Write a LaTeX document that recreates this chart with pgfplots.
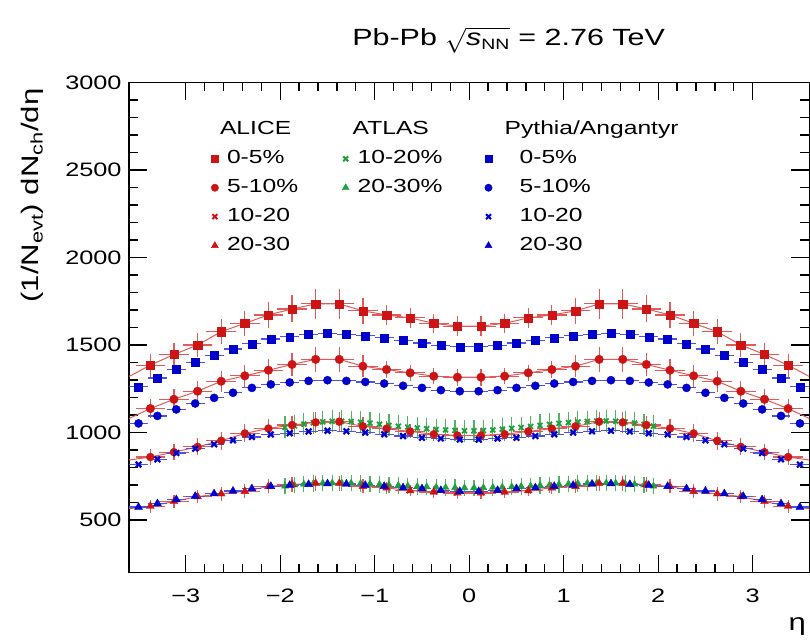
\documentclass[border=0pt]{standalone}
\usepackage{fontspec}
\setmainfont{Liberation Sans}[FakeStretch=1.3]
\usepackage{pgfplots}
\pgfplotsset{compat=1.18}
\usepackage{pgfplotstable}
\definecolor{ared}{RGB}{205,20,20}
\definecolor{aredl}{RGB}{225,90,90}
\definecolor{pblue}{RGB}{0,0,205}
\definecolor{pbluel}{RGB}{80,80,225}
\definecolor{tgreen}{RGB}{30,160,60}
\definecolor{tgreenl}{RGB}{80,180,100}

% ALICE (x y ey)
\pgfplotstableread{
x y ey
-3.375 1385 48
-3.125 1446 50
-2.875 1500 52
-2.625 1576 55
-2.375 1624 56
-2.125 1672 58
-1.875 1706 60
-1.625 1735 68
-1.375 1735 68
-1.125 1695 58
-0.875 1672 40
-0.625 1655 38
-0.375 1624 38
-0.125 1608 40
0.125 1608 40
0.375 1624 38
0.625 1655 38
0.875 1672 40
1.125 1695 58
1.375 1735 68
1.625 1735 68
1.875 1706 60
2.125 1672 58
2.375 1624 56
2.625 1576 55
2.875 1500 52
3.125 1446 50
3.375 1385 48
}\aliceA
\pgfplotstableread{
x y ey
-3.375 1137 38
-3.125 1190 40
-2.875 1236 42
-2.625 1293 44
-2.375 1324 45
-2.125 1356 46
-1.875 1389 48
-1.625 1418 54
-1.375 1418 54
-1.125 1379 46
-0.875 1360 32
-0.625 1341 30
-0.375 1322 30
-0.125 1316 32
0.125 1316 32
0.375 1322 30
0.625 1341 30
0.875 1360 32
1.125 1379 46
1.375 1418 54
1.625 1418 54
1.875 1389 48
2.125 1356 46
2.375 1324 45
2.625 1293 44
2.875 1236 42
3.125 1190 40
3.375 1137 38
}\aliceB
\pgfplotstableread{
x y ey
-3.375 860 29
-3.125 888 30
-2.875 918 31
-2.625 953 33
-2.375 995 34
-2.125 1023 35
-1.875 1043 36
-1.625 1058 41
-1.375 1062 41
-1.125 1035 35
-0.875 1022 24
-0.625 1006 23
-0.375 990 23
-0.125 983 24
0.125 983 24
0.375 990 23
0.625 1006 23
0.875 1022 24
1.125 1035 35
1.375 1062 41
1.625 1058 41
1.875 1043 36
2.125 1023 35
2.375 995 34
2.625 953 33
2.875 918 31
3.125 888 30
3.375 860 29
}\aliceC
\pgfplotstableread{
x y ey
-3.375 579 19
-3.125 606 20
-2.875 634 21
-2.625 650 22
-2.375 664 22
-2.125 692 23
-1.875 703 24
-1.625 710 27
-1.375 710 27
-1.125 692 23
-0.875 684 16
-0.625 668 15
-0.375 660 15
-0.125 655 16
0.125 655 16
0.375 660 15
0.625 668 15
0.875 684 16
1.125 692 23
1.375 710 27
1.625 710 27
1.875 703 24
2.125 692 23
2.375 664 22
2.625 650 22
2.875 634 21
3.125 606 20
3.375 579 19
}\aliceD
% thin ALICE lines (edge values read at the frame)
\pgfplotstableread{
x a b c d
-3.6 1320 1080 843 565
-3.375 1385 1137 860 579
-3.125 1446 1190 888 606
-2.875 1500 1236 918 634
-2.625 1576 1293 953 650
-2.375 1624 1324 995 664
-2.125 1672 1356 1023 692
-1.875 1706 1389 1043 703
-1.625 1735 1418 1058 710
-1.375 1735 1418 1062 710
-1.125 1695 1379 1035 692
-0.875 1672 1360 1022 684
-0.625 1655 1341 1006 668
-0.375 1624 1322 990 660
-0.125 1608 1316 983 655
0.125 1608 1316 983 655
0.375 1624 1322 990 660
0.625 1655 1341 1006 668
0.875 1672 1360 1022 684
1.125 1695 1379 1035 692
1.375 1735 1418 1062 710
1.625 1735 1418 1058 710
1.875 1706 1389 1043 703
2.125 1672 1356 1023 692
2.375 1624 1324 995 664
2.625 1576 1293 953 650
2.875 1500 1236 918 634
3.125 1446 1190 888 606
3.375 1385 1137 860 579
3.6 1320 1080 843 565
}\aliceLine
% Pythia/Angantyr (x a=0-5 b=5-10 c=10-20 d=20-30)
\pgfplotstableread{
x a b c d
-3.5 1261 1052 817 574
-3.3 1312 1095 847 594
-3.1 1362 1132 883 617
-2.9 1400 1166 908 636
-2.7 1442 1198 933 651
-2.5 1477 1227 956 666
-2.3 1507 1255 975 680
-2.1 1534 1275 989 693
-1.9 1547 1286 996 699
-1.7 1561 1295 1006 704
-1.5 1566 1299 1010 708
-1.3 1562 1295 1007 706
-1.1 1553 1289 1000 699
-0.9 1541 1280 990 693
-0.7 1528 1267 980 685
-0.5 1511 1255 970 680
-0.3 1498 1242 966 670
-0.1 1490 1236 960 664
0.1 1490 1236 960 664
0.3 1498 1242 966 670
0.5 1511 1255 970 680
0.7 1528 1267 980 685
0.9 1541 1280 990 693
1.1 1553 1289 1000 699
1.3 1562 1295 1007 706
1.5 1566 1299 1010 708
1.7 1561 1295 1006 704
1.9 1547 1286 996 699
2.1 1534 1275 989 693
2.3 1507 1255 975 680
2.5 1477 1227 956 666
2.7 1442 1198 933 651
2.9 1400 1166 908 636
3.1 1362 1132 883 617
3.3 1312 1095 847 594
3.5 1261 1052 817 574
}\pythia
% ATLAS (x c=10-20 d=20-30)
\pgfplotstableread{
x c d
-1.95 1030 694
-1.85 1038 700
-1.75 1048 705
-1.65 1056 709
-1.55 1061 711
-1.45 1064 712
-1.35 1065 712
-1.25 1063 711
-1.15 1059 709
-1.05 1054 707
-0.95 1047 704
-0.85 1041 701
-0.75 1036 698
-0.65 1031 695
-0.55 1026 692
-0.45 1022 690
-0.35 1018 688
-0.25 1015 686
-0.15 1012 685
-0.05 1010 684
0.05 1010 684
0.15 1012 685
0.25 1015 686
0.35 1019 688
0.45 1024 690
0.55 1029 692
0.65 1035 695
0.75 1041 698
0.85 1047 701
0.95 1052 704
1.05 1057 707
1.15 1060 709
1.25 1063 711
1.35 1065 712
1.45 1066 712
1.55 1064 711
1.65 1060 709
1.75 1054 705
1.85 1046 700
1.95 1037 694
}\atlas

\begin{document}
\begin{tikzpicture}
\begin{axis}[name=ax, scale only axis, width=682pt, height=491.3pt,
  xmin=-3.6, xmax=3.6, ymin=200, ymax=3000,
  xtick={-3,-2,-1,0,1,2,3}, xticklabels={−3,−2,−1,0,1,2,3},
  ytick={500,1000,1500,2000,2500,3000}, yticklabels={500,1000,1500,2000,2500,3000},
  minor x tick num=4, minor y tick num=4,
  tick align=inside,
  xtick pos=both, ytick pos=both,
  axis line style={line width=1.3pt},
  tick style={draw=black, line width=1.3pt},
  major tick length=18pt, minor tick length=9pt,
  ticklabel style={font=\fontsize{19.5}{20}\selectfont},
  xticklabel style={yshift=-13pt},
  yticklabel style={xshift=-4pt},
  title={Pb-Pb $\sqrt{\mbox{\itshape s}_{\mbox{\fontsize{15}{15}\selectfont NN}}}$ = 2.76 TeV},
  title style={at={(axis description cs:0.558,1.0625)}, anchor=base, font=\fontsize{23.5}{26}\selectfont},
  ylabel={(1/N\textsubscript{evt}) dN\textsubscript{ch}/dη},
  ylabel style={at={(axis description cs:-0.1326,0.995)}, anchor=base east, font=\fontsize{24}{26}\selectfont},
  xlabel={η},
  xlabel style={at={(axis description cs:1,-0.118)}, anchor=base east, font=\fontsize{24}{26}\selectfont},
  legend columns=3,
  legend cell align=left,
  legend image code/.code={\draw[#1] plot coordinates {(0pt,0pt)};},
  legend style={at={(axis description cs:0.1204,0.921)}, anchor=north west, draw=none, fill=none,
    inner sep=0pt, row sep=12pt, column sep=8.5pt, font=\fontsize{19}{19}\selectfont,
    nodes={inner sep=0pt, text height=13pt, text depth=4pt}},
]
% ATLAS
\addplot[forget plot, only marks, mark=x, mark size=3.5pt, tgreen, mark options={line width=1.8pt},
  error bars/.cd, y dir=both, y fixed=45, error mark options={tgreenl, line width=1.2pt, mark size=3pt},
  error bar style={tgreenl, line width=1.2pt}] table[x=x, y=c] {\atlas};
\addplot[forget plot, only marks, mark=triangle*, mark size=4pt, tgreen,
  error bars/.cd, y dir=both, y fixed=30, error mark options={tgreenl, line width=1.2pt, mark size=3pt},
  error bar style={tgreenl, line width=1.2pt}] table[x=x, y=d] {\atlas};
% ALICE lines
\addplot[forget plot, aredl, line width=1pt] table[x=x, y=a] {\aliceLine};
\addplot[forget plot, aredl, line width=1pt] table[x=x, y=b] {\aliceLine};
\addplot[forget plot, aredl, line width=1pt] table[x=x, y=c] {\aliceLine};
\addplot[forget plot, aredl, line width=1pt] table[x=x, y=d] {\aliceLine};
% ALICE points
\pgfplotsset{aliceerr/.style={error bars/.cd, y dir=both, y explicit, x dir=both, x fixed=0.125,
  error mark options={aredl, line width=1.2pt, mark size=3pt},
  error bar style={aredl, line width=1.2pt}}}
\addplot[forget plot, only marks, mark=square*, mark size=4.2pt, ared, aliceerr] table[x=x, y=y, y error=ey] {\aliceA};
\addplot[forget plot, only marks, mark=*, mark size=4.3pt, ared, aliceerr] table[x=x, y=y, y error=ey] {\aliceB};
\addplot[forget plot, only marks, mark=*, mark size=4pt, ared, aliceerr] table[x=x, y=y, y error=ey] {\aliceC};
\addplot[forget plot, only marks, mark=triangle*, mark size=4.5pt, ared, aliceerr] table[x=x, y=y, y error=ey] {\aliceD};
% Pythia
\pgfplotsset{pyerr/.style={error bars/.cd, x dir=both, x fixed=0.1, error mark=none,
  error bar style={pbluel, line width=1.2pt}}}
\addplot[forget plot, only marks, mark=square*, mark size=4pt, pblue, pyerr] table[x=x, y=a] {\pythia};
\addplot[forget plot, only marks, mark=*, mark size=4.1pt, pblue, pyerr] table[x=x, y=b] {\pythia};
\addplot[forget plot, only marks, mark=x, mark size=4pt, pblue, mark options={line width=2.2pt}, pyerr] table[x=x, y=c] {\pythia};
\addplot[forget plot, only marks, mark=triangle*, mark size=4.6pt, pblue, pyerr] table[x=x, y=d] {\pythia};

% legend, row by row: ALICE | ATLAS | Pythia/Angantyr
\addlegendimage{empty legend}\addlegendentry{\makebox[107pt][l]{\hspace*{-7pt}ALICE}}
\addlegendimage{empty legend}\addlegendentry{\makebox[119pt][l]{\hspace*{-5pt}ATLAS}}
\addlegendimage{empty legend}\addlegendentry{\hspace*{4pt}Pythia/Angantyr}
\addlegendimage{only marks, mark=square*, mark size=3.5pt, ared}\addlegendentry{\makebox[107pt][l]{0-5\%}}
\addlegendimage{only marks, mark=x, mark size=3.5pt, tgreen, mark options={line width=2pt}}\addlegendentry{\makebox[119pt][l]{10-20\%}}
\addlegendimage{only marks, mark=square*, mark size=3.5pt, pblue}\addlegendentry{\hspace*{19pt}0-5\%}
\addlegendimage{only marks, mark=*, mark size=3.7pt, ared}\addlegendentry{\makebox[107pt][l]{5-10\%}}
\addlegendimage{only marks, mark=triangle*, mark size=4pt, tgreen}\addlegendentry{\makebox[119pt][l]{20-30\%}}
\addlegendimage{only marks, mark=*, mark size=3.7pt, pblue}\addlegendentry{\hspace*{19pt}5-10\%}
\addlegendimage{only marks, mark=x, mark size=3.5pt, ared, mark options={line width=2pt}}\addlegendentry{\makebox[107pt][l]{10-20}}
\addlegendimage{empty legend}\addlegendentry{\makebox[119pt][l]{}}
\addlegendimage{only marks, mark=x, mark size=3.5pt, pblue, mark options={line width=2pt}}\addlegendentry{\hspace*{19pt}10-20}
\addlegendimage{only marks, mark=triangle*, mark size=4pt, ared}\addlegendentry{\makebox[107pt][l]{20-30}}
\addlegendimage{empty legend}\addlegendentry{\makebox[119pt][l]{}}
\addlegendimage{only marks, mark=triangle*, mark size=4pt, pblue}\addlegendentry{\hspace*{19pt}20-30}
\end{axis}
\path ([shift={(-129.4pt,-70pt)}]ax.south west) rectangle ([shift={(0pt,82.7pt)}]ax.north east);
\end{tikzpicture}
\end{document}
